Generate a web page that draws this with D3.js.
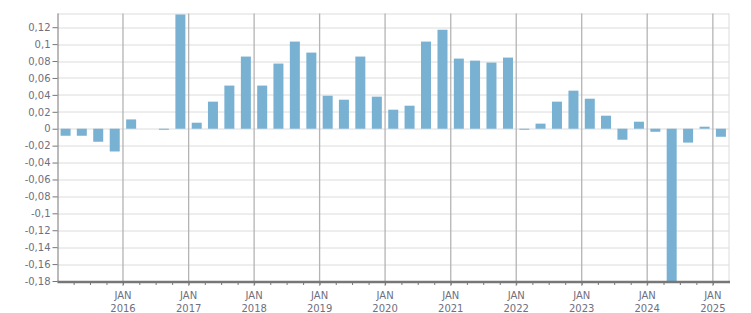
<!DOCTYPE html>
<html>
<head>
<meta charset="utf-8">
<script src="https://cdn.jsdelivr.net/npm/d3@7"></script>
<style>
  body { margin: 0; background: #fff; }
  svg text { font-family: "DejaVu Sans", Verdana, sans-serif; font-size: 10px; fill: #6f6f80; }
</style>
</head>
<body>
<div id="chart"></div>
<script>
var width = 751;
var height = 313;

// quarters, start date of each bar's quarter
var quarters = ["2015-01","2015-04","2015-07","2015-10",
                "2016-01","2016-04","2016-07","2016-10",
                "2017-01","2017-04","2017-07","2017-10",
                "2018-01","2018-04","2018-07","2018-10",
                "2019-01","2019-04","2019-07","2019-10",
                "2020-01","2020-04","2020-07","2020-10",
                "2021-01","2021-04","2021-07","2021-10",
                "2022-01","2022-04","2022-07","2022-10",
                "2023-01","2023-04","2023-07","2023-10",
                "2024-01","2024-04","2024-07","2024-10",
                "2025-01"];
var values = [-0.0083, -0.0083, -0.0154, -0.0269,
              0.011, null, -0.0008, 0.135,
              0.0071, 0.032, 0.051, 0.0853,
              0.051, 0.077, 0.103, 0.090,
              0.039, 0.0343, 0.0853, 0.0379,
              0.0225, 0.0272, 0.103, 0.117,
              0.0829, 0.0805, 0.0782, 0.0841,
              -0.0008, 0.006, 0.032, 0.045,
              0.0355, 0.0154, -0.013, 0.0083,
              -0.0036, -0.19, -0.0164, 0.0024,
              -0.0095];
var yTicks = [-0.18,-0.16,-0.14,-0.12,-0.1,-0.08,-0.06,-0.04,-0.02,0,0.02,0.04,0.06,0.08,0.1,0.12];
var yearTicks = [2016,2017,2018,2019,2020,2021,2022,2023,2024,2025];

document.addEventListener("DOMContentLoaded", function() {
    var margin = {top: 13.5, right: 22, bottom: 32, left: 57.5};
    var w = width - margin.left - margin.right,
        h = height - margin.top - margin.bottom;

    var parse = d3.timeParse("%Y-%m");
    var data = quarters.map(function(q, i) { return {date: parse(q), value: values[i]}; })
        .filter(function(d) { return d.value !== null; });

    var x = d3.scaleTime()
        .domain([new Date(2015, 0, 1), new Date(2025, 3, 1)])
        .range([0, w]);
    var y = d3.scaleLinear()
        .domain([-0.18, 0.1362])
        .range([h, 0]);

    var svg = d3.select("#chart").append("svg")
        .attr("width", width)
        .attr("height", height)
      .append("g")
        .attr("transform", "translate(" + margin.left + "," + margin.top + ")");

    svg.append("defs").append("clipPath").attr("id", "clip")
      .append("rect").attr("width", w).attr("height", h);

    // horizontal grid
    svg.append("g").selectAll("line")
        .data(yTicks.concat([y.domain()[1]]))
        .enter().append("line")
        .attr("x1", 0).attr("x2", w)
        .attr("y1", function(d) { return Math.round(y(d)) + 0.5; })
        .attr("y2", function(d) { return Math.round(y(d)) + 0.5; })
        .attr("stroke", "#dcdcdc");

    // right border
    svg.append("line")
        .attr("x1", w).attr("x2", w).attr("y1", 0).attr("y2", h)
        .attr("stroke", "#dcdcdc");

    // year grid lines
    svg.append("g").selectAll("line")
        .data(yearTicks)
        .enter().append("line")
        .attr("x1", function(d) { return x(new Date(d, 0, 1)); })
        .attr("x2", function(d) { return x(new Date(d, 0, 1)); })
        .attr("y1", 0).attr("y2", h + 5)
        .attr("stroke", "#b4b4b4")
        .attr("stroke-width", 1.3);

    // bars
    var bw = 10;
    svg.append("g").attr("clip-path", "url(#clip)")
      .selectAll("rect")
        .data(data)
        .enter().append("rect")
        .attr("x", function(d) {
            var mid = (x(d.date) + x(d3.timeMonth.offset(d.date, 3))) / 2;
            return mid - bw / 2;
        })
        .attr("width", bw)
        .attr("y", function(d) { return y(Math.max(0, d.value)); })
        .attr("height", function(d) { return Math.max(1, Math.abs(y(d.value) - y(0))); })
        .attr("fill", "#78b1d2");

    // y axis
    var yAxis = svg.append("g")
        .call(d3.axisLeft(y).tickValues(yTicks).tickSize(5).tickPadding(2)
            .tickFormat(function(d) { return d3.format("~g")(d).replace(".", ",").replace("−", "-"); }));
    yAxis.select(".domain").attr("stroke", "#777").attr("d", "M0.5," + (h + 1) + "V0");
    yAxis.selectAll(".tick line").attr("stroke", "#777");
    yAxis.selectAll("text").style("font-size", "10px").attr("fill", "#6f6f80");

    // x axis with quarter minor ticks
    var qTicks = d3.timeMonth.every(3).range(new Date(2015, 3, 1), new Date(2025, 3, 1));
    var xAxis = svg.append("g")
        .attr("transform", "translate(0," + (h + 1) + ")")
        .call(d3.axisBottom(x).tickValues(qTicks).tickSize(3).tickFormat(""));
    xAxis.select(".domain").attr("stroke", "#777").attr("stroke-width", 2.5).attr("d", "M0,0H" + (w + 1));
    xAxis.selectAll(".tick line").attr("stroke", "#777");

    var labels = svg.append("g").selectAll("g")
        .data(yearTicks)
        .enter().append("g")
        .attr("transform", function(d) { return "translate(" + x(new Date(d, 0, 1)) + "," + (h + 1) + ")"; });
    labels.append("text").attr("y", 17).attr("text-anchor", "middle").text("JAN");
    labels.append("text").attr("y", 29.5).attr("text-anchor", "middle").text(function(d) { return d; });
});
</script>
</body>
</html>
